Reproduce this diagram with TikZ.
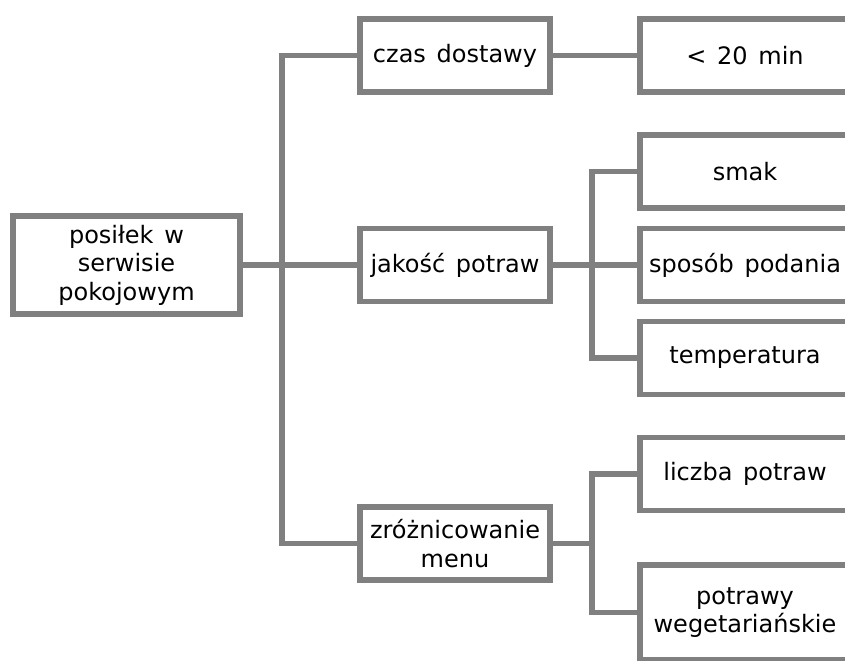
\documentclass[tikz,border=0pt]{standalone}
\usepackage{fontspec}
\setmainfont[WordSpace=1.4]{DejaVu Sans}
\definecolor{linegray}{RGB}{128,128,128}
\begin{document}
\begin{tikzpicture}[x=0.75pt, y=-0.75pt,
  box/.style={draw=linegray, line width=4.1pt, fill=white, rectangle,
    inner sep=0pt, outer sep=0pt, align=center, text=black,
    font=\fontsize{18pt}{21.4pt}\selectfont},
  mid/.style={box, minimum width=142.5pt, minimum height=55pt},
  leaf/.style={box, minimum width=157.5pt, minimum height=55pt},
  link/.style={draw=linegray, line width=4.1pt, line join=miter}]
\useasboundingbox (0,0) rectangle (845,660);
\clip (0,0) rectangle (845,660);

% vertical spines of the tree
\coordinate (spine) at (282,0);
\coordinate (spineA) at (592,0);
\coordinate (spineB) at (592,0);

% root and first level
\node[box, minimum width=170.25pt, minimum height=73.5pt] (root) at (126.5,265)
  {posiłek w\\serwisie\\pokojowym};
\node[mid] (czas) at (455,55.5) {czas dostawy};
\node[mid] (jakosc) at (455,265) {jakość potraw};
\node[mid] (menu) at (455,543.5) {zróżnicowanie\\menu};

% leaves (running off the right edge)
\node[leaf] (czasA) at (745,55.5) {< 20 min};
\node[leaf] (smak) at (745,171.5) {smak};
\node[leaf] (sposob) at (745,265) {sposób podania};
\node[leaf] (temp) at (745,358) {temperatura};
\node[leaf] (liczba) at (745,474) {liczba potraw};
\node[leaf, minimum height=71.25pt] (wege) at (745,612.5) {potrawy\\wegetariańskie};

% connectors
\path[link] (root.east) -- (jakosc.west);
\path[link] (czas.west) -- (czas.west -| spine) -- (menu.west -| spine) -- (menu.west);
\path[link] (czas.east) -- (czasA.west);
\path[link] (jakosc.east) -- (sposob.west);
\path[link] (smak.west) -- (smak.west -| spineA) -- (temp.west -| spineA) -- (temp.west);
\path[link] (menu.east) -- (menu.east -| spineB);
\path[link] (liczba.west) -- (liczba.west -| spineB) -- (wege.west -| spineB) -- (wege.west);
\end{tikzpicture}
\end{document}
